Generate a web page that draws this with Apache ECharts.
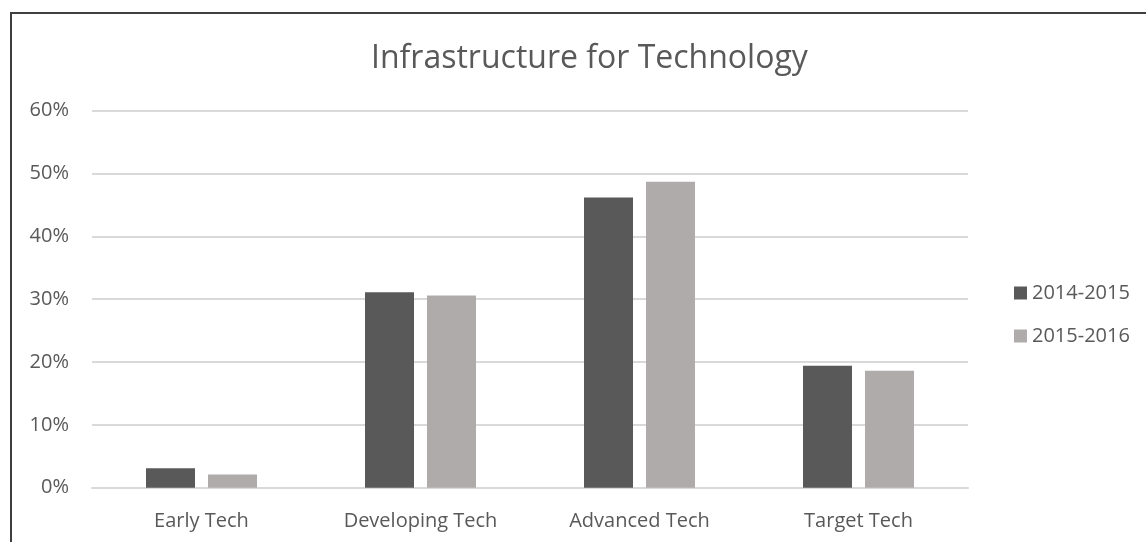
<!DOCTYPE html>
<html>
<head>
<meta charset="utf-8">
<script src="https://cdn.jsdelivr.net/npm/echarts@6/dist/echarts.min.js"></script>
<style>
  html, body { margin: 0; padding: 0; background: #fff; }
  #chart { width: 1146px; height: 542px; }
</style>
</head>
<body>
<div id="chart"></div>
<script>
  // values (percent)
  const categories = ['Early Tech', 'Developing Tech', 'Advanced Tech', 'Target Tech'];
  const seriesNames = ['2014-2015', '2015-2016'];
  const values2014 = [3.1, 31.1, 46.2, 19.4];
  const values2015 = [2.1, 30.6, 48.7, 18.6];
  const yTicks = { min: 0, max: 60, interval: 10 };

  const textColor = '#595959';
  const font = '"Open Sans", sans-serif';

  const chart = echarts.init(document.getElementById('chart'));

  const option = {
    backgroundColor: '#fff',
    animation: false,
    title: {
      text: 'Infrastructure for Technology',
      left: 366,
      top: 38,
      textStyle: {
        fontFamily: font,
        fontSize: 32,
        fontWeight: 'normal',
        color: textColor
      }
    },
    legend: {
      orient: 'vertical',
      left: 1009,
      top: 278,
      itemWidth: 13,
      itemHeight: 13,
      itemGap: 23,
      icon: 'rect',
      data: seriesNames,
      textStyle: {
        fontFamily: font,
        fontSize: 20,
        color: textColor
      }
    },
    grid: {
      left: 92,
      right: 178,
      top: 110.7,
      bottom: 54.3
    },
    xAxis: {
      type: 'category',
      data: categories,
      axisLine: { lineStyle: { color: '#d9d9d9', width: 2 } },
      axisTick: { show: false },
      axisLabel: {
        margin: 24,
        fontFamily: font,
        fontSize: 20,
        color: textColor
      }
    },
    yAxis: {
      type: 'value',
      min: yTicks.min,
      max: yTicks.max,
      interval: yTicks.interval,
      axisLine: { show: false },
      axisTick: { show: false },
      splitLine: { lineStyle: { color: '#d9d9d9', width: 2 } },
      axisLabel: {
        margin: 23,
        formatter: '{value}%',
        fontFamily: font,
        fontSize: 20,
        color: textColor
      }
    },
    series: [{
      name: seriesNames[0],
      type: 'bar',
      data: values2014,
      barWidth: 49,
      barGap: '26.5%',
      itemStyle: { color: '#595959' }
    }, {
      name: seriesNames[1],
      type: 'bar',
      data: values2015,
      barWidth: 49,
      itemStyle: { color: '#afabab' }
    }],
    graphic: [{
      type: 'line',
      shape: { x1: 10, y1: 13, x2: 1146, y2: 13 },
      style: { stroke: '#3f3f3f', lineWidth: 2 }
    }, {
      type: 'line',
      shape: { x1: 11, y1: 12, x2: 11, y2: 542 },
      style: { stroke: '#3f3f3f', lineWidth: 2 }
    }]
  };

  chart.setOption(option);
</script>
</body>
</html>
